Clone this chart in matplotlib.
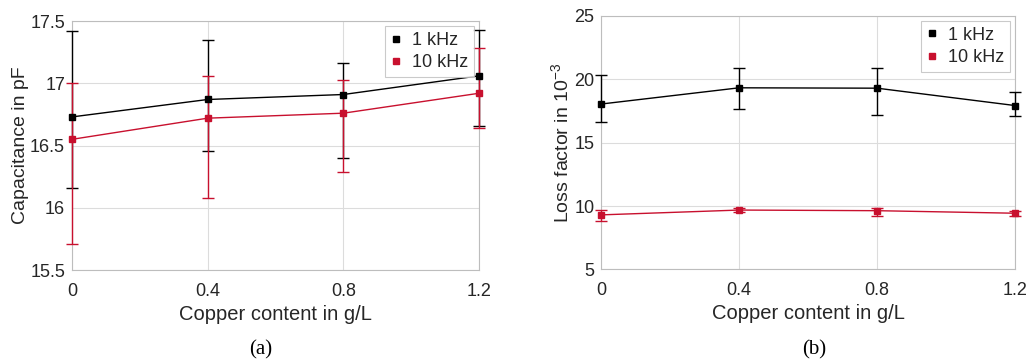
import matplotlib.pyplot as plt
from matplotlib.lines import Line2D

copper = [0, 0.4, 0.8, 1.2]

# panel (a) capacitance in pF
cap_1k = [16.73, 16.87, 16.91, 17.06]
cap_1k_lo = [16.16, 16.46, 16.40, 16.66]
cap_1k_hi = [17.42, 17.35, 17.16, 17.43]
cap_10k = [16.55, 16.72, 16.76, 16.92]
cap_10k_lo = [15.71, 16.08, 16.29, 16.64]
cap_10k_hi = [17.00, 17.06, 17.03, 17.28]

# panel (b) loss factor in 1e-3
loss_1k = [18.05, 19.33, 19.30, 17.93]
loss_1k_lo = [16.62, 17.62, 17.20, 17.13]
loss_1k_hi = [20.32, 20.90, 20.93, 18.98]
loss_10k = [9.30, 9.68, 9.63, 9.43]
loss_10k_lo = [8.80, 9.50, 9.20, 9.25]
loss_10k_hi = [9.72, 9.88, 9.88, 9.62]

BLACK = '#000000'
RED = '#c8102e'
TXT = '#262626'

plt.rcParams['font.family'] = ['Liberation Sans', 'DejaVu Sans']
plt.rcParams['mathtext.fontset'] = 'custom'
plt.rcParams['mathtext.rm'] = 'Liberation Sans'


def errs(v, lo, hi):
    return [[a - b for a, b in zip(v, lo)], [c - a for a, c in zip(v, hi)]]


def panel(ax, y1, lo1, hi1, y2, lo2, hi2, ylim, yticks, yticklabels, ylabel):
    handles = []
    for y, lo, hi, c, lab in [(y1, lo1, hi1, BLACK, '1 kHz'), (y2, lo2, hi2, RED, '10 kHz')]:
        ax.errorbar(copper, y, yerr=errs(y, lo, hi), color=c, marker='s', markersize=5,
                    linewidth=1.0, elinewidth=1.0, capsize=4, capthick=1.0,
                    clip_on=False, zorder=3)
        handles.append(Line2D([], [], color=c, marker='s', markersize=4, linestyle='none', label=lab))
    ax.set_xlim(0, 1.2)
    ax.set_ylim(*ylim)
    ax.set_xticks(copper)
    ax.set_xticklabels(['0', '0.4', '0.8', '1.2'])
    ax.set_yticks(yticks)
    ax.set_yticklabels(yticklabels)
    ax.tick_params(length=0, labelsize=13, labelcolor=TXT)
    ax.tick_params(axis='x', pad=9)
    ax.tick_params(axis='y', pad=5)
    ax.grid(True, color='#dcdcdc', linewidth=0.8)
    ax.set_axisbelow(True)
    for s in ax.spines.values():
        s.set_color('#bdbdbd')
        s.set_linewidth(0.8)
    ax.set_xlabel('Copper content in g/L', fontsize=14.5, color=TXT, labelpad=4)
    ax.set_ylabel(ylabel, fontsize=14, color=TXT, labelpad=1)
    leg = ax.legend(handles=handles, loc='upper right', fontsize=13, frameon=True, fancybox=False,
                    handlelength=0.6, handletextpad=0.6, borderpad=0.3, labelspacing=0.3,
                    borderaxespad=0.3)
    leg.get_frame().set_edgecolor('#bdbdbd')
    leg.get_frame().set_linewidth(0.8)
    for t in leg.get_texts():
        t.set_color(TXT)


fig = plt.figure(figsize=(10.31, 3.63), dpi=100)
ax1 = fig.add_axes([0.0698, 0.256, 0.3948, 0.686])
ax2 = fig.add_axes([0.5832, 0.258, 0.4013, 0.698])

panel(ax1, cap_1k, cap_1k_lo, cap_1k_hi, cap_10k, cap_10k_lo, cap_10k_hi,
      (15.5, 17.5), [15.5, 16, 16.5, 17, 17.5], ['15.5', '16', '16.5', '17', '17.5'],
      'Capacitance in pF')
panel(ax2, loss_1k, loss_1k_lo, loss_1k_hi, loss_10k, loss_10k_lo, loss_10k_hi,
      (5, 25), [5, 10, 15, 20, 25], ['5', '10', '15', '20', '25'],
      'Loss factor in 10$^{\\mathrm{-3}}$')

fig.text(0.253, 0.035, '(a)', fontsize=15, family='Liberation Serif', ha='center', va='center')
fig.text(0.790, 0.035, '(b)', fontsize=15, family='Liberation Serif', ha='center', va='center')

fig.savefig('out.png', dpi=100)
